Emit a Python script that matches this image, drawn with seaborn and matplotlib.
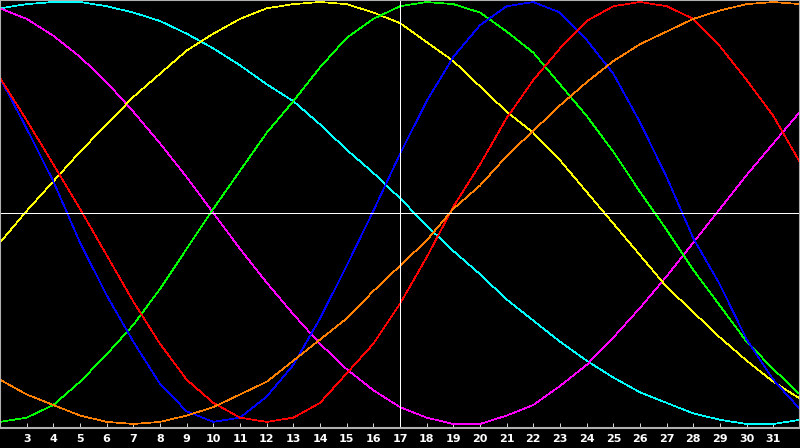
import numpy as np
import pandas as pd
import seaborn as sns
import matplotlib
matplotlib.use("Agg")
import matplotlib.pyplot as plt

# x positions (one point per unit)
days = list(range(2, 33))

# curve values (percent of full swing)
cyan = [97, 99, 100, 100, 98, 95, 91, 85, 78, 70, 61, 53, 42, 30, 19, 7, -6, -18, -29, -41,
        -51, -61, -70, -78, -85, -90, -95, -98, -100, -100, -98]
magenta = [97, 92, 84, 74, 62, 48, 33, 17, 0, -17, -33, -48, -62, -74, -84, -92, -97, -100, -100, -96,
           -91, -82, -72, -59, -45, -30, -14, 2, 18, 33, 48]
yellow = [-14, 1, 15, 29, 42, 55, 66, 77, 85, 92, 97, 99, 100, 99, 95, 90, 81, 72, 60, 48,
          38, 25, 10, -5, -20, -35, -47, -59, -70, -80, -88]
green = [-99, -97, -91, -80, -67, -53, -36, -17, 2, 20, 38, 53, 69, 83, 92, 98, 100, 99, 95, 86,
         76, 61, 46, 29, 10, -8, -27, -44, -61, -74, -86]
blue = [64, 40, 15, -14, -39, -61, -81, -94, -99, -97, -87, -72, -50, -25, 1, 28, 53, 74, 89, 98,
        100, 95, 82, 66, 43, 17, -12, -34, -60, -79, -93]
red = [64, 44, 23, 2, -20, -42, -62, -79, -90, -97, -99, -97, -90, -76, -62, -43, -21, 3, 23, 45,
       63, 78, 91, 98, 100, 98, 92, 79, 63, 46, 24]
orange = [-79, -86, -91, -96, -99, -100, -99, -96, -92, -86, -80, -70, -60, -50, -37, -25, -13, 2, 13, 27,
          39, 51, 62, 72, 80, 86, 92, 96, 99, 100, 99]

series = {"cyan": cyan, "magenta": magenta, "yellow": yellow, "green": green,
          "blue": blue, "red": red, "orange": orange}
colors = {"cyan": "#00ffff", "magenta": "#ff00ff", "yellow": "#ffff00", "green": "#00ff00",
          "blue": "#0000ff", "red": "#ff0000", "orange": "#ff8000"}

df = pd.concat([pd.DataFrame({"day": days, "value": v, "curve": name})
                for name, v in series.items()], ignore_index=True)

fig = plt.figure(figsize=(8, 4.48), dpi=100, facecolor="black")
ax = fig.add_axes([0, 20 / 448, 1, 428 / 448])
ax.set_facecolor("black")

sns.lineplot(data=df, x="day", y="value", hue="curve", palette=colors,
             linewidth=0.5, legend=False, ax=ax, antialiased=False)

ax.axhline(0, color="white", linewidth=0.5, antialiased=False)
ax.axvline(17, color="white", linewidth=0.5, antialiased=False)

ax.set_xlim(2, 32)
ax.set_ylim(-101.9, 100.95)
ax.set_xticks(range(3, 32))
ax.set_yticks([])
ax.set_xlabel("")
ax.set_ylabel("")
ax.tick_params(axis="x", direction="in", length=3.5, width=0.6, color="white",
               labelcolor="white", labelsize=8, pad=4.5)
for lab in ax.get_xticklabels():
    lab.set_fontweight("bold")
for s in ax.spines.values():
    s.set_color("#b0b0b0")
    s.set_linewidth(1.5)

fig.savefig("out.png", dpi=100, facecolor="black")
